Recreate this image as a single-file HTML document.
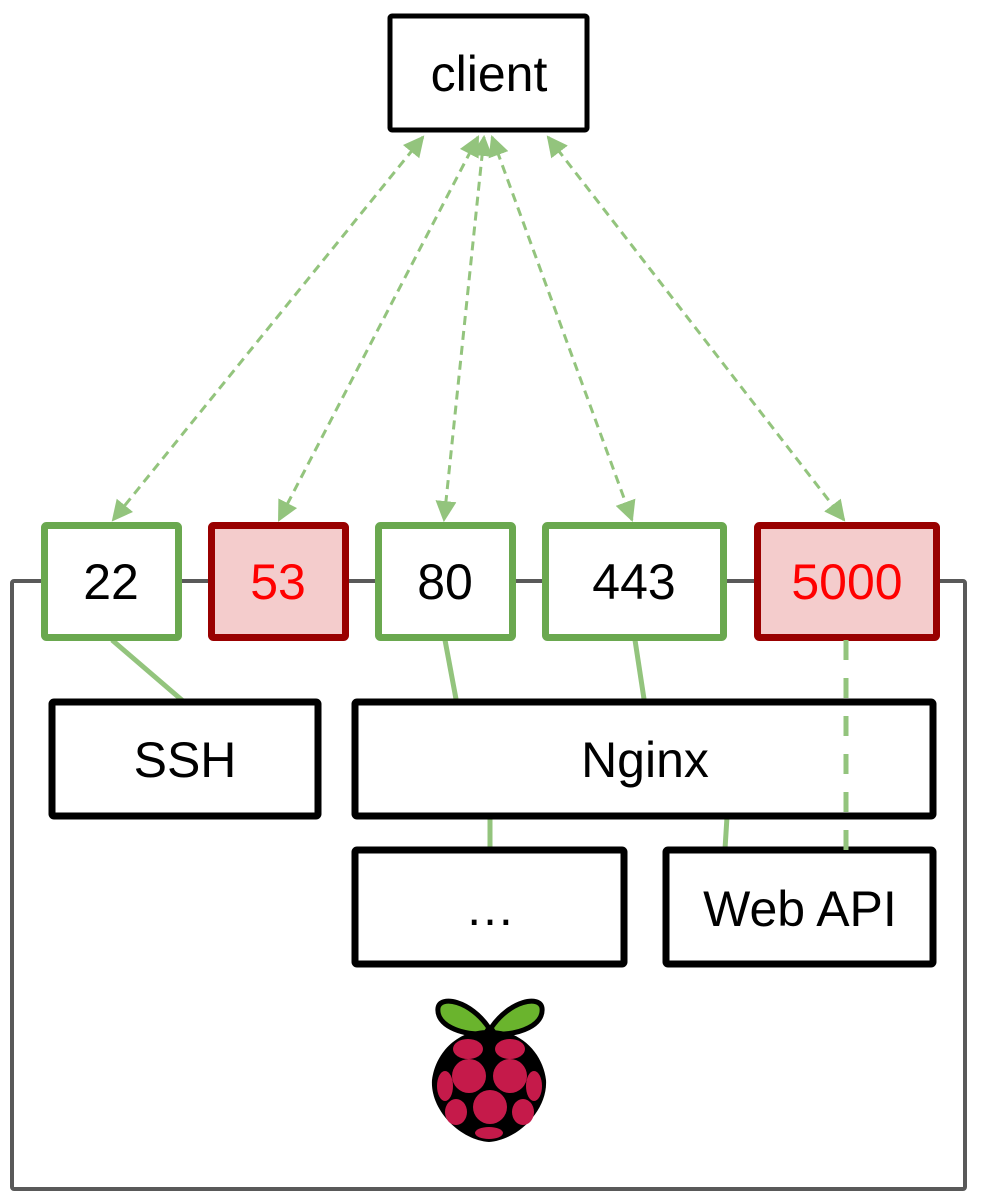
<!DOCTYPE html>
<html><head><meta charset="utf-8"><style>
html,body{margin:0;padding:0;background:#fff;}
svg{display:block;}
text{font-family:"Liberation Sans",Arial,sans-serif;font-size:50px;text-anchor:middle;}
</style></head><body>
<svg width="982" height="1204" viewBox="0 0 982 1204" xmlns="http://www.w3.org/2000/svg">
<defs>
<marker id="ah" viewBox="0 0 10 10" refX="9" refY="5" markerWidth="7" markerHeight="7" markerUnits="strokeWidth" orient="auto-start-reverse">
<path d="M0,0 L10,5 L0,10 z" fill="#93c47d"/>
</marker>
</defs>
<rect x="12" y="581" width="953" height="608" fill="none" stroke="#595959" stroke-width="4" rx="2"/>
<rect x="390" y="16" width="197" height="114" fill="#fff" stroke="#000" stroke-width="5" rx="2"/>
<text x="489" y="91">client</text>
<g stroke="#93c47d" stroke-width="3" stroke-dasharray="9,6" fill="none" marker-start="url(#ah)" marker-end="url(#ah)">
<line x1="423" y1="137" x2="113" y2="520"/>
<line x1="478" y1="137" x2="279" y2="520"/>
<line x1="484" y1="137" x2="444" y2="520"/>
<line x1="492" y1="137" x2="632" y2="520"/>
<line x1="548" y1="137" x2="844" y2="520"/>
</g>
<g stroke="#93c47d" stroke-width="5" fill="none">
<line x1="112" y1="640" x2="183" y2="701"/>
<line x1="445" y1="640" x2="456" y2="699"/>
<line x1="635" y1="640" x2="644" y2="699"/>
<line x1="490" y1="817" x2="490" y2="849"/>
<line x1="727" y1="817" x2="725" y2="849"/>
</g>
<rect x="44.5" y="525.5" width="134" height="112" fill="#fff" stroke="#6aa84f" stroke-width="7" rx="2"/>
<text x="111" y="599">22</text>
<rect x="211.5" y="525.5" width="134" height="112" fill="#f4cccc" stroke="#990000" stroke-width="7" rx="2"/>
<text x="278" y="599" fill="#ff0000">53</text>
<rect x="378.5" y="525.5" width="134" height="112" fill="#fff" stroke="#6aa84f" stroke-width="7" rx="2"/>
<text x="445" y="599">80</text>
<rect x="545.5" y="525.5" width="178" height="112" fill="#fff" stroke="#6aa84f" stroke-width="7" rx="2"/>
<text x="634" y="599">443</text>
<rect x="757.5" y="525.5" width="179" height="112" fill="#f4cccc" stroke="#990000" stroke-width="7" rx="2"/>
<text x="847" y="599" fill="#ff0000">5000</text>
<rect x="52" y="702" width="266" height="114" fill="#fff" stroke="#000" stroke-width="7" rx="2"/>
<text x="185" y="777">SSH</text>
<rect x="355" y="702" width="578" height="114" fill="#fff" stroke="#000" stroke-width="7" rx="2"/>
<text x="645" y="777">Nginx</text>
<rect x="355" y="850" width="269" height="114" fill="#fff" stroke="#000" stroke-width="7" rx="2"/>
<text x="490" y="925">…</text>
<rect x="666" y="850" width="267" height="114" fill="#fff" stroke="#000" stroke-width="7" rx="2"/>
<text x="800" y="926">Web API</text>
<line x1="846" y1="640" x2="846" y2="851" stroke="#93c47d" stroke-width="5" stroke-dasharray="20,18"/>
<g>
<path d="M489,1028 C470,1000 440,995 438,1008 C436,1025 460,1035 485,1034 Z" fill="#6ab42d" stroke="#000" stroke-width="5"/>
<path d="M491,1028 C510,1000 540,995 542,1008 C544,1025 520,1035 495,1034 Z" fill="#6ab42d" stroke="#000" stroke-width="5"/>
<path d="M489,1030 C455,1030 435,1055 432,1080 C430,1110 460,1140 489,1142 C518,1140 548,1110 546,1080 C543,1055 523,1030 489,1030 Z" fill="#000"/>
<g fill="#c51a4a">
<ellipse cx="468" cy="1049" rx="15" ry="10"/>
<ellipse cx="510" cy="1049" rx="15" ry="10"/>
<circle cx="469" cy="1076" r="17"/>
<circle cx="510" cy="1076" r="17"/>
<ellipse cx="445" cy="1086" rx="8" ry="15"/>
<ellipse cx="534" cy="1086" rx="8" ry="15"/>
<circle cx="490" cy="1107" r="17"/>
<ellipse cx="456" cy="1112" rx="11" ry="13"/>
<ellipse cx="523" cy="1112" rx="11" ry="13"/>
<ellipse cx="489" cy="1133" rx="14" ry="6"/>
</g>
</g>
</svg>
</body></html>
